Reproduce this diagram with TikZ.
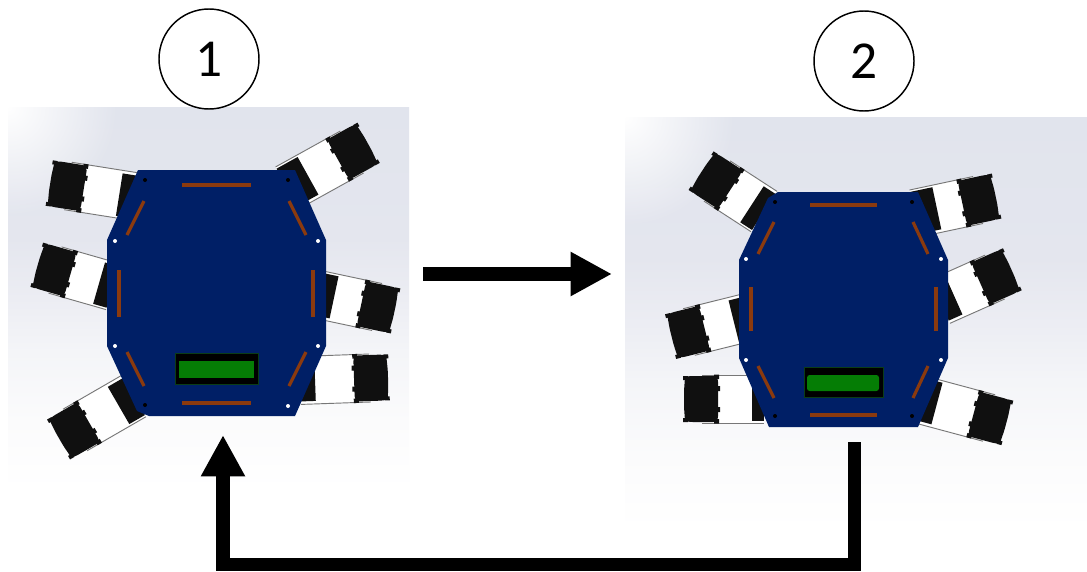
\documentclass[tikz,border=0pt]{standalone}
\usepackage{fontspec}
\setmainfont{Carlito}
\usetikzlibrary{arrows.meta,fadings}
\definecolor{plateblue}{HTML}{001F66}
\definecolor{slotbrown}{HTML}{8B3A0E}
\definecolor{wheelblack}{HTML}{101010}
\definecolor{lcdgreen}{HTML}{057D05}
\definecolor{lcdedge}{HTML}{0B3D16}
\definecolor{legline}{HTML}{777777}
\definecolor{bgA}{HTML}{E1E4ED}
\definecolor{bgB}{HTML}{E4E6EE}
\definecolor{bgC}{HTML}{ECEDF3}
\definecolor{bgD}{HTML}{F4F5F8}
\definecolor{bgE}{HTML}{FBFBFC}
\pgfdeclareverticalshading{cadbg}{100bp}{
 color(0bp)=(white); color(25bp)=(white);
 color(34bp)=(bgE);
 color(43bp)=(bgD);
 color(50bp)=(bgC);
 color(58bp)=(bgB);
 color(75bp)=(bgA); color(100bp)=(bgA)}
\tikzfading[name=cornerfade,inner color=transparent!0,outer color=transparent!100]
\tikzset{
 plate/.style={fill=plateblue,draw=none},
 slot/.style={draw=slotbrown,line width=2.4pt},
 holew/.style={fill=white,draw=none},
 holek/.style={fill=black,draw=none},
 legline/.style={draw=legline,line width=0.7pt},
 lcdbox/.style={fill=black,draw=lcdedge,line width=0.6pt},
 bigarrow/.style={draw=black,line width=10.2pt,miter limit=10,-{Triangle[length=31pt,width=31pt,inset=0pt]}},
 stepcircle/.style={circle,draw=black,line width=1.1pt,fill=white,minimum size=75pt,inner sep=0pt,font=\fontsize{40}{44}\selectfont}
}
% cx cy angle(y down, towards plate) len mountstart
\newcommand\robotleg[5]{%
 \begin{scope}[shift={(#1,#2)},rotate=-#3]
  \fill[white] (0,-24) rectangle (#4,24);
  \draw[legline] (0,-24) -- (#4,-24);
  \draw[legline] (0,24) -- (#4,24);
  \fill[wheelblack] (#5,-21) rectangle (#4,22);
  \fill[wheelblack,rounded corners=2pt] (-17,-22) -- (-12,-23) -- (14,-23) -- (16,-20) -- (16,20) -- (14,23) -- (-12,23) -- (-17,22) -- (-18,8) -- (-18,-8) -- cycle;
  \fill[wheelblack] (-19,-23) rectangle (-14,-19) (12,-24.5) rectangle (17,-20) (-19,19) rectangle (-14,23) (12,20) rectangle (17,24.5);
  \fill[wheelblack] (14,-13) rectangle (18,-8) (14,8) rectangle (18,13);
 \end{scope}}
\newcommand\cadbg[4]{%
 \begin{scope}
  \clip (#1,#2) rectangle (#3,#4);
  \shade[shading=cadbg] (#1,#2) rectangle (#3,#4);
  \fill[white,path fading=cornerfade] (#1,#2) circle[radius=110];
 \end{scope}}
\begin{document}
\begin{tikzpicture}[x=0.75pt,y=-0.75pt]
\useasboundingbox (0,0) rectangle (1087,571);
\fill[white] (0,0) rectangle (1087,571);
% backgrounds
\cadbg{8}{107}{409}{490}
\cadbg{625}{117}{1087}{530}
% robot 1
\robotleg{68}{186}{9}{68}{52}
\robotleg{55}{270}{16}{60}{46}
\robotleg{75}{430}{-30}{68}{50}
\robotleg{352}{152}{151}{74}{50}
\robotleg{377}{307}{192}{60}{44}
\robotleg{370}{378}{178}{70}{55}
\fill[plate] (138,170) -- (295,170) -- (326,240) -- (326,346) -- (295,416) -- (149,416) -- (137,411) -- (107,346) -- (107,240) -- cycle;
\draw[slot] (182,185) -- (251,185);
\draw[slot] (182,403) -- (251,403);
\draw[slot] (119,270) -- (119,317);
\draw[slot] (313,270) -- (313,317);
\draw[slot] (144,201) -- (127,235);
\draw[slot] (289,201) -- (306,235);
\draw[slot] (127,352) -- (144,386);
\draw[slot] (306,352) -- (289,386);
\fill[holew] (115,241) circle[radius=2] (318,241) circle[radius=2] (115,346) circle[radius=2] (318,346) circle[radius=2] (288,406) circle[radius=2];
\fill[holek] (145,180) circle[radius=2] (288,180) circle[radius=2] (145,405) circle[radius=2];
\filldraw[lcdbox] (175,353) rectangle (258,384);
\fill[lcdgreen] (179,361) rectangle (254,378);
% robot 2
\robotleg{717}{181}{33}{56}{42}
\robotleg{689}{332}{-14}{60}{46}
\robotleg{702}{399}{0}{62}{50}
\robotleg{978}{200}{168}{65}{42}
\robotleg{995}{277}{156}{60}{45}
\robotleg{989}{418}{195}{70}{54}
\fill[plate] (778,192) -- (918,192) -- (948,260) -- (948,358) -- (918,427) -- (769,427) -- (739,358) -- (739,260) -- (768,198) -- cycle;
\draw[slot] (810,205) -- (877,205);
\draw[slot] (810,415) -- (877,415);
\draw[slot] (751,287) -- (751,331);
\draw[slot] (936,287) -- (936,331);
\draw[slot] (774,222) -- (758,254);
\draw[slot] (913,222) -- (928,254);
\draw[slot] (758,366) -- (774,398);
\draw[slot] (928,366) -- (913,398);
\fill[holew] (746,259) circle[radius=2] (941,259) circle[radius=2] (746,360) circle[radius=2] (941,360) circle[radius=2];
\fill[holek] (775,202) circle[radius=2] (912,202) circle[radius=2] (775,416) circle[radius=2] (912,416) circle[radius=2];
\filldraw[lcdbox] (804,367) rectangle (883,397);
\fill[lcdgreen,rounded corners=2pt] (807,375) rectangle (879,391);
% step labels
\node[stepcircle] (one) at (209,59) {1};
\node[stepcircle] (two) at (864,61) {2};
% arrows
\coordinate (hstart) at (423,274);
\coordinate (hend) at (612,274);
\draw[bigarrow] (hstart) -- (hend);
\coordinate (bstart) at (854.5,442);
\coordinate (bright) at (854.5,564.5);
\coordinate (bleft) at (223,564.5);
\coordinate (bend) at (223,435);
\draw[bigarrow] (bstart) -- (bright) -- (bleft) -- (bend);
\end{tikzpicture}
\end{document}
